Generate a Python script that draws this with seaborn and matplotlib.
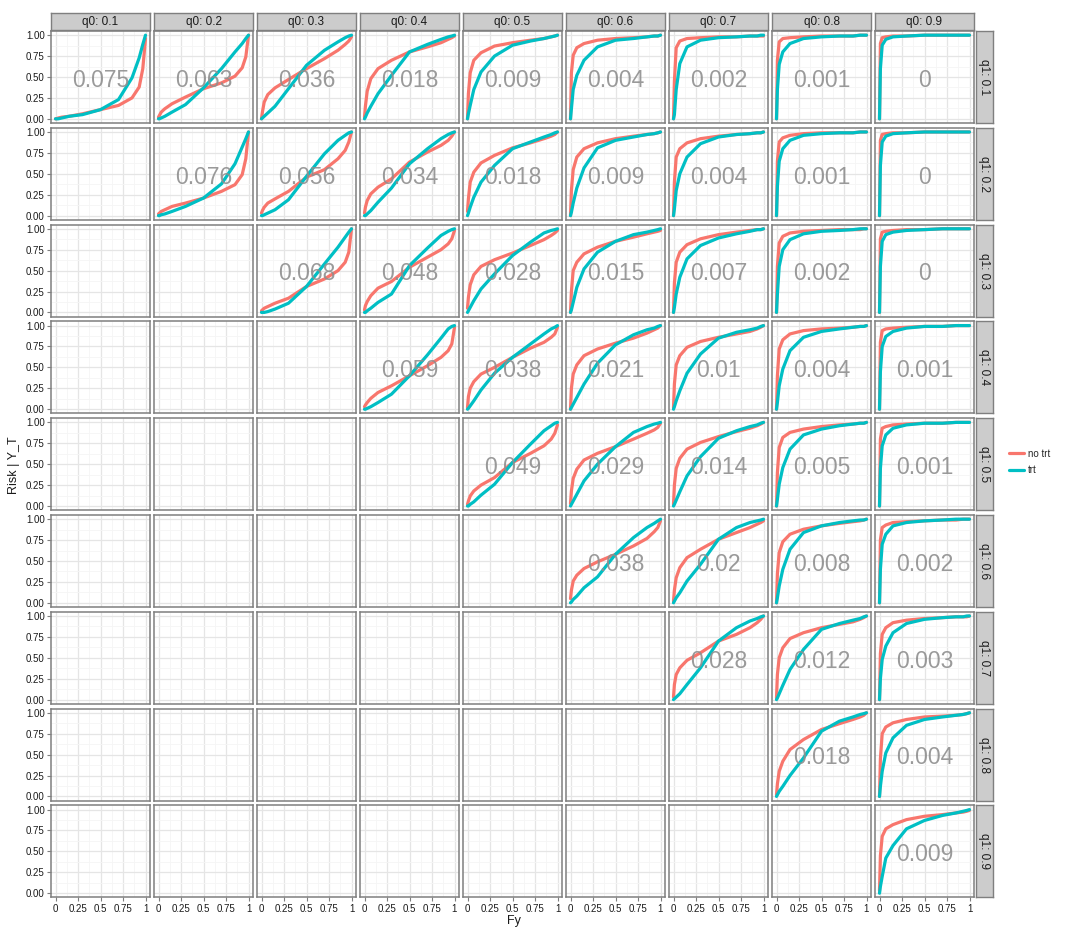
import numpy as np
import pandas as pd
import matplotlib
matplotlib.use("Agg")
import matplotlib.pyplot as plt
from matplotlib.lines import Line2D
import seaborn as sns

sns.set_theme(style="white")
plt.rcParams['font.family'] = ['Liberation Sans', 'DejaVu Sans']

# ---------------- data ----------------
Q0 = [0.1, 0.2, 0.3, 0.4, 0.5, 0.6, 0.7, 0.8, 0.9]
Q1 = [0.1, 0.2, 0.3, 0.4, 0.5, 0.6, 0.7, 0.8, 0.9]
FY = [0, 0.01, 0.03, 0.07, 0.15, 0.3, 0.5, 0.7, 0.85, 0.93, 0.97, 1.0]
GROUPS = ["no trt", "trt"]

# labels per q1 row, for q0 >= q1
LABELS = [
    ["0.075", "0.063", "0.036", "0.018", "0.009", "0.004", "0.002", "0.001", "0"],
    ["0.076", "0.056", "0.034", "0.018", "0.009", "0.004", "0.001", "0"],
    ["0.068", "0.048", "0.028", "0.015", "0.007", "0.002", "0"],
    ["0.059", "0.038", "0.021", "0.01", "0.004", "0.001"],
    ["0.049", "0.029", "0.014", "0.005", "0.001"],
    ["0.038", "0.02", "0.008", "0.002"],
    ["0.028", "0.012", "0.003"],
    ["0.018", "0.004"],
    ["0.009"],
]

# risk for "no trt", per q1 row, per q0 column (q0 >= q1), at FY
NO_TRT = [
    [[0.0, 0.0, 0.01, 0.02, 0.03, 0.06, 0.11, 0.16, 0.25, 0.38, 0.60, 0.96],
     [0.02, 0.04, 0.08, 0.12, 0.18, 0.26, 0.36, 0.43, 0.51, 0.61, 0.74, 1.0],
     [0.0, 0.08, 0.20, 0.29, 0.37, 0.47, 0.60, 0.72, 0.82, 0.89, 0.93, 0.98],
     [0.02, 0.15, 0.33, 0.48, 0.60, 0.70, 0.80, 0.86, 0.91, 0.95, 0.97, 0.99],
     [0.0, 0.30, 0.55, 0.70, 0.79, 0.87, 0.91, 0.94, 0.96, 0.98, 0.99, 1.0],
     [0.0, 0.55, 0.76, 0.85, 0.90, 0.94, 0.96, 0.97, 0.98, 0.99, 0.99, 1.0],
     [0.0, 0.45, 0.85, 0.93, 0.96, 0.97, 0.98, 0.98, 0.99, 0.99, 0.99, 0.99],
     [0.0, 0.70, 0.92, 0.96, 0.97, 0.98, 0.99, 0.99, 0.99, 1.0, 1.0, 1.0],
     [0.0, 0.90, 0.97, 0.98, 0.99, 0.99, 1.0, 1.0, 1.0, 1.0, 1.0, 1.0]],
    [[0.02, 0.03, 0.05, 0.07, 0.11, 0.15, 0.21, 0.29, 0.37, 0.49, 0.68, 1.0],
     [0.03, 0.06, 0.10, 0.15, 0.20, 0.29, 0.46, 0.55, 0.68, 0.78, 0.88, 1.0],
     [0.03, 0.10, 0.18, 0.26, 0.34, 0.44, 0.64, 0.76, 0.84, 0.90, 0.95, 1.0],
     [0.05, 0.20, 0.40, 0.52, 0.63, 0.72, 0.81, 0.87, 0.92, 0.95, 0.97, 1.0],
     [0.0, 0.30, 0.55, 0.70, 0.80, 0.87, 0.92, 0.95, 0.97, 0.98, 0.99, 1.0],
     [0.0, 0.40, 0.70, 0.80, 0.87, 0.92, 0.95, 0.97, 0.98, 0.99, 0.99, 1.0],
     [0.0, 0.65, 0.88, 0.93, 0.96, 0.98, 0.99, 0.99, 0.99, 1.0, 1.0, 1.0],
     [0.0, 0.90, 0.97, 0.98, 0.99, 0.99, 1.0, 1.0, 1.0, 1.0, 1.0, 1.0]],
    [[0.02, 0.03, 0.05, 0.07, 0.11, 0.17, 0.31, 0.40, 0.50, 0.60, 0.72, 1.0],
     [0.03, 0.08, 0.13, 0.20, 0.29, 0.37, 0.54, 0.66, 0.75, 0.82, 0.88, 0.98],
     [0.05, 0.18, 0.33, 0.45, 0.55, 0.63, 0.71, 0.80, 0.87, 0.92, 0.95, 0.98],
     [0.0, 0.25, 0.50, 0.60, 0.70, 0.78, 0.85, 0.90, 0.94, 0.96, 0.97, 0.98],
     [0.0, 0.35, 0.60, 0.72, 0.81, 0.88, 0.93, 0.96, 0.98, 0.99, 0.99, 1.0],
     [0.0, 0.55, 0.83, 0.91, 0.95, 0.97, 0.98, 0.99, 0.99, 0.99, 1.0, 1.0],
     [0.0, 0.88, 0.96, 0.97, 0.98, 0.99, 0.99, 1.0, 1.0, 1.0, 1.0, 1.0]],
    [[0.03, 0.05, 0.08, 0.13, 0.20, 0.28, 0.40, 0.52, 0.62, 0.70, 0.78, 0.98],
     [0.02, 0.15, 0.25, 0.33, 0.42, 0.50, 0.62, 0.73, 0.80, 0.86, 0.90, 0.98],
     [0.0, 0.25, 0.42, 0.53, 0.64, 0.72, 0.79, 0.85, 0.91, 0.95, 0.97, 1.0],
     [0.02, 0.30, 0.53, 0.64, 0.74, 0.81, 0.86, 0.90, 0.93, 0.96, 0.98, 1.0],
     [0.0, 0.40, 0.72, 0.83, 0.90, 0.94, 0.96, 0.97, 0.98, 0.99, 0.99, 1.0],
     [0.0, 0.80, 0.94, 0.96, 0.97, 0.98, 0.99, 0.99, 1.0, 1.0, 1.0, 1.0]],
    [[0.02, 0.06, 0.12, 0.18, 0.25, 0.34, 0.52, 0.63, 0.72, 0.80, 0.87, 0.97],
     [0.03, 0.18, 0.33, 0.44, 0.55, 0.63, 0.71, 0.80, 0.87, 0.91, 0.94, 0.99],
     [0.02, 0.25, 0.45, 0.57, 0.68, 0.76, 0.83, 0.89, 0.93, 0.96, 0.98, 1.0],
     [0.0, 0.40, 0.70, 0.82, 0.88, 0.92, 0.95, 0.97, 0.98, 0.99, 0.99, 1.0],
     [0.0, 0.80, 0.93, 0.95, 0.97, 0.98, 0.99, 0.99, 1.0, 1.0, 1.0, 1.0]],
    [[0.05, 0.15, 0.26, 0.33, 0.41, 0.49, 0.58, 0.68, 0.77, 0.85, 0.90, 0.98],
     [0.02, 0.15, 0.30, 0.42, 0.54, 0.64, 0.76, 0.84, 0.90, 0.94, 0.96, 0.98],
     [0.0, 0.35, 0.60, 0.73, 0.82, 0.88, 0.92, 0.95, 0.97, 0.98, 0.99, 1.0],
     [0.0, 0.75, 0.90, 0.93, 0.96, 0.97, 0.98, 0.99, 0.99, 1.0, 1.0, 1.0]],
    [[0.03, 0.18, 0.30, 0.38, 0.47, 0.56, 0.70, 0.78, 0.86, 0.92, 0.96, 1.0],
     [0.02, 0.30, 0.50, 0.62, 0.73, 0.80, 0.86, 0.90, 0.93, 0.96, 0.98, 1.0],
     [0.0, 0.55, 0.78, 0.86, 0.92, 0.95, 0.97, 0.98, 0.99, 0.99, 0.99, 1.0]],
    [[0.02, 0.15, 0.30, 0.42, 0.56, 0.68, 0.80, 0.87, 0.92, 0.95, 0.97, 1.0],
     [0.0, 0.45, 0.75, 0.83, 0.88, 0.92, 0.95, 0.96, 0.97, 0.98, 0.99, 1.0]],
    [[0.03, 0.45, 0.68, 0.77, 0.82, 0.88, 0.92, 0.94, 0.96, 0.97, 0.98, 0.99]],
]

# risk for "trt"
TRT = [
    [[0.0, 0.0, 0.0, 0.01, 0.03, 0.05, 0.11, 0.23, 0.49, 0.73, 0.89, 1.0],
     [0.0, 0.0, 0.01, 0.03, 0.08, 0.17, 0.37, 0.60, 0.80, 0.90, 0.96, 1.0],
     [0.0, 0.01, 0.03, 0.07, 0.15, 0.36, 0.64, 0.82, 0.92, 0.97, 0.99, 1.0],
     [0.0, 0.02, 0.07, 0.15, 0.30, 0.52, 0.80, 0.89, 0.95, 0.98, 0.99, 1.0],
     [0.0, 0.06, 0.16, 0.35, 0.56, 0.75, 0.88, 0.93, 0.96, 0.98, 0.99, 1.0],
     [0.0, 0.12, 0.35, 0.52, 0.70, 0.86, 0.94, 0.96, 0.98, 0.99, 0.99, 1.0],
     [0.0, 0.05, 0.35, 0.66, 0.86, 0.94, 0.97, 0.98, 0.99, 0.99, 1.0, 1.0],
     [0.0, 0.35, 0.65, 0.80, 0.90, 0.96, 0.98, 0.99, 0.99, 1.0, 1.0, 1.0],
     [0.0, 0.60, 0.88, 0.95, 0.98, 0.99, 1.0, 1.0, 1.0, 1.0, 1.0, 1.0]],
    [[0.0, 0.0, 0.01, 0.02, 0.05, 0.11, 0.21, 0.38, 0.62, 0.82, 0.92, 1.0],
     [0.0, 0.0, 0.01, 0.03, 0.07, 0.19, 0.47, 0.74, 0.90, 0.96, 0.99, 1.0],
     [0.0, 0.0, 0.02, 0.06, 0.16, 0.33, 0.62, 0.80, 0.92, 0.97, 0.99, 1.0],
     [0.0, 0.03, 0.10, 0.22, 0.40, 0.60, 0.80, 0.88, 0.94, 0.97, 0.99, 1.0],
     [0.0, 0.04, 0.15, 0.33, 0.57, 0.81, 0.90, 0.94, 0.97, 0.98, 0.99, 1.0],
     [0.0, 0.08, 0.30, 0.50, 0.70, 0.86, 0.94, 0.97, 0.98, 0.99, 0.99, 1.0],
     [0.0, 0.35, 0.65, 0.80, 0.90, 0.96, 0.98, 0.99, 0.99, 1.0, 1.0, 1.0],
     [0.0, 0.60, 0.88, 0.95, 0.98, 0.99, 1.0, 1.0, 1.0, 1.0, 1.0, 1.0]],
    [[0.0, 0.0, 0.0, 0.01, 0.04, 0.11, 0.31, 0.58, 0.78, 0.90, 0.96, 1.0],
     [0.0, 0.0, 0.02, 0.05, 0.12, 0.22, 0.56, 0.77, 0.92, 0.97, 0.99, 1.0],
     [0.0, 0.02, 0.06, 0.14, 0.28, 0.46, 0.68, 0.84, 0.95, 0.98, 0.99, 1.0],
     [0.0, 0.03, 0.12, 0.30, 0.52, 0.72, 0.85, 0.93, 0.96, 0.98, 0.99, 1.0],
     [0.0, 0.06, 0.22, 0.42, 0.64, 0.80, 0.89, 0.94, 0.97, 0.99, 0.99, 1.0],
     [0.0, 0.22, 0.55, 0.75, 0.87, 0.94, 0.97, 0.98, 0.99, 1.0, 1.0, 1.0],
     [0.0, 0.55, 0.85, 0.93, 0.96, 0.98, 0.99, 1.0, 1.0, 1.0, 1.0, 1.0]],
    [[0.0, 0.0, 0.01, 0.03, 0.08, 0.18, 0.40, 0.65, 0.85, 0.96, 0.99, 1.0],
     [0.0, 0.01, 0.04, 0.10, 0.23, 0.43, 0.62, 0.78, 0.90, 0.96, 0.98, 1.0],
     [0.0, 0.02, 0.06, 0.14, 0.30, 0.55, 0.77, 0.89, 0.95, 0.97, 0.99, 1.0],
     [0.0, 0.03, 0.10, 0.22, 0.43, 0.66, 0.85, 0.92, 0.95, 0.97, 0.99, 1.0],
     [0.0, 0.08, 0.28, 0.48, 0.70, 0.86, 0.93, 0.96, 0.98, 0.99, 0.99, 1.0],
     [0.0, 0.45, 0.75, 0.87, 0.93, 0.97, 0.99, 0.99, 1.0, 1.0, 1.0, 1.0]],
    [[0.0, 0.0, 0.02, 0.05, 0.13, 0.26, 0.52, 0.74, 0.90, 0.96, 0.99, 1.0],
     [0.0, 0.02, 0.06, 0.14, 0.30, 0.50, 0.71, 0.88, 0.95, 0.98, 0.99, 1.0],
     [0.0, 0.02, 0.07, 0.17, 0.36, 0.59, 0.81, 0.90, 0.95, 0.97, 0.99, 1.0],
     [0.0, 0.08, 0.26, 0.46, 0.68, 0.85, 0.92, 0.96, 0.98, 0.99, 0.99, 1.0],
     [0.0, 0.45, 0.72, 0.85, 0.93, 0.97, 0.99, 0.99, 1.0, 1.0, 1.0, 1.0]],
    [[0.0, 0.01, 0.04, 0.08, 0.18, 0.31, 0.58, 0.78, 0.90, 0.95, 0.98, 1.0],
     [0.0, 0.02, 0.06, 0.12, 0.26, 0.46, 0.76, 0.90, 0.96, 0.98, 0.99, 1.0],
     [0.0, 0.06, 0.20, 0.40, 0.64, 0.84, 0.92, 0.96, 0.98, 0.99, 0.99, 1.0],
     [0.0, 0.40, 0.70, 0.82, 0.92, 0.96, 0.98, 0.99, 1.0, 1.0, 1.0, 1.0]],
    [[0.0, 0.01, 0.03, 0.07, 0.18, 0.38, 0.70, 0.86, 0.94, 0.97, 0.99, 1.0],
     [0.0, 0.02, 0.07, 0.17, 0.36, 0.60, 0.84, 0.91, 0.95, 0.97, 0.99, 1.0],
     [0.0, 0.25, 0.48, 0.64, 0.80, 0.91, 0.96, 0.98, 0.99, 0.99, 1.0, 1.0]],
    [[0.0, 0.02, 0.06, 0.12, 0.25, 0.46, 0.78, 0.90, 0.95, 0.98, 0.99, 1.0],
     [0.0, 0.12, 0.30, 0.52, 0.70, 0.85, 0.92, 0.95, 0.97, 0.98, 0.99, 1.0]],
    [[0.0, 0.08, 0.20, 0.42, 0.57, 0.77, 0.87, 0.93, 0.96, 0.98, 0.99, 1.0]],
]

X_TICKS = [0, 0.25, 0.5, 0.75, 1]
X_TICKLABELS = ["0", "0.25", "0.5", "0.75", "1"]
Y_TICKS = [0, 0.25, 0.5, 0.75, 1]
Y_TICKLABELS = ["0.00", "0.25", "0.50", "0.75", "1.00"]

# ---------------- long table ----------------
rows = []
for r, q1 in enumerate(Q1):
    for k in range(len(NO_TRT[r])):
        q0 = Q0[r + k]
        for grp, src in zip(GROUPS, [NO_TRT, TRT]):
            for fy, rk in zip(FY, src[r][k]):
                rows.append(dict(q0=q0, q1=q1, Fy=fy, risk=rk, group=grp))
df = pd.DataFrame(rows)

PAL = {"no trt": "#F8766D", "trt": "#00BFC4"}
GREY50 = "#7F7F7F"

W, H = 1080, 936
fig = plt.figure(figsize=(W / 100, H / 100), dpi=100)
fig.patch.set_facecolor("white")

col_left0, col_pitch, pw = 51, 103, 99
row_top0, row_pitch, ph = 31, 96.8, 92
strip_h = 17

def rect(x, y, w, h):
    return [x / W, 1 - (y + h) / H, w / W, h / H]

for r in range(9):
    for c in range(9):
        x0 = col_left0 + c * col_pitch
        y0 = row_top0 + r * row_pitch
        ax = fig.add_axes(rect(x0, y0, pw, ph))
        ax.set_facecolor("white")
        ax.set_xlim(-0.05, 1.05)
        ax.set_ylim(-0.05, 1.05)
        ax.set_xticks(X_TICKS)
        ax.set_yticks(Y_TICKS)
        ax.set_xticks([0.125, 0.375, 0.625, 0.875], minor=True)
        ax.set_yticks([0.125, 0.375, 0.625, 0.875], minor=True)
        ax.grid(True, which="major", color="#E5E5E5", linewidth=0.9)
        ax.grid(True, which="minor", color="#F5F5F5", linewidth=0.6)
        ax.set_axisbelow(True)
        for s in ax.spines.values():
            s.set_color(GREY50)
            s.set_linewidth(1.1)
        ax.tick_params(which="minor", length=0)
        ax.tick_params(which="major", length=3, width=0.8, color=GREY50,
                       labelsize=7, labelcolor="#1A1A1A", pad=1.5,
                       bottom=(r == 8), left=(c == 0),
                       labelbottom=(r == 8), labelleft=(c == 0))
        if r == 8:
            ax.set_xticklabels(X_TICKLABELS)
        if c == 0:
            ax.set_yticklabels(Y_TICKLABELS)
        ax.set_xlabel("")
        ax.set_ylabel("")
        if c >= r:
            sub = df[(df.q1 == Q1[r]) & (df.q0 == Q0[c])]
            sns.lineplot(data=sub, x="Fy", y="risk", hue="group", palette=PAL,
                         hue_order=GROUPS, estimator=None, sort=False,
                         linewidth=2.3, legend=False, ax=ax)
            ax.set_xlabel("")
            ax.set_ylabel("")
            ax.text(0.5, 0.46, LABELS[r][c - r], ha="center", va="center",
                    fontsize=16.5, color="#8F8F8F", alpha=0.9, zorder=5)
        # top strips
        if r == 0:
            sa = fig.add_axes(rect(x0, 13, pw, strip_h))
            sa.set_facecolor("#CCCCCC")
            sa.set_xticks([]); sa.set_yticks([])
            for s in sa.spines.values():
                s.set_color(GREY50); s.set_linewidth(1.0)
            sa.text(0.5, 0.45, f"q0: {Q0[c]}", ha="center", va="center",
                    fontsize=8.5, color="#1A1A1A", transform=sa.transAxes)
    # right strips
    y0 = row_top0 + r * row_pitch
    sa = fig.add_axes(rect(976, y0, 17, ph))
    sa.set_facecolor("#CCCCCC")
    sa.set_xticks([]); sa.set_yticks([])
    for s in sa.spines.values():
        s.set_color(GREY50); s.set_linewidth(1.0)
    sa.text(0.5, 0.5, f"q1: {Q1[r]}", ha="center", va="center", rotation=-90,
            fontsize=8.5, color="#1A1A1A", transform=sa.transAxes)

fig.text(514 / W, 1 - 921 / H, "Fy", ha="center", va="center", fontsize=9, color="#1A1A1A")
fig.text(14 / W, 1 - 465 / H, "Risk | Y_T", ha="center", va="center", rotation=90,
         fontsize=9, color="#1A1A1A")

handles = [Line2D([0], [0], color=PAL[g], linewidth=2.3) for g in GROUPS]
fig.legend(handles, GROUPS, loc="center left", bbox_to_anchor=(1000 / W, 1 - 462 / H),
           frameon=False, fontsize=7, handlelength=1.6, handletextpad=0.4,
           labelspacing=0.7)

fig.savefig("out.png", dpi=100, facecolor="white")
